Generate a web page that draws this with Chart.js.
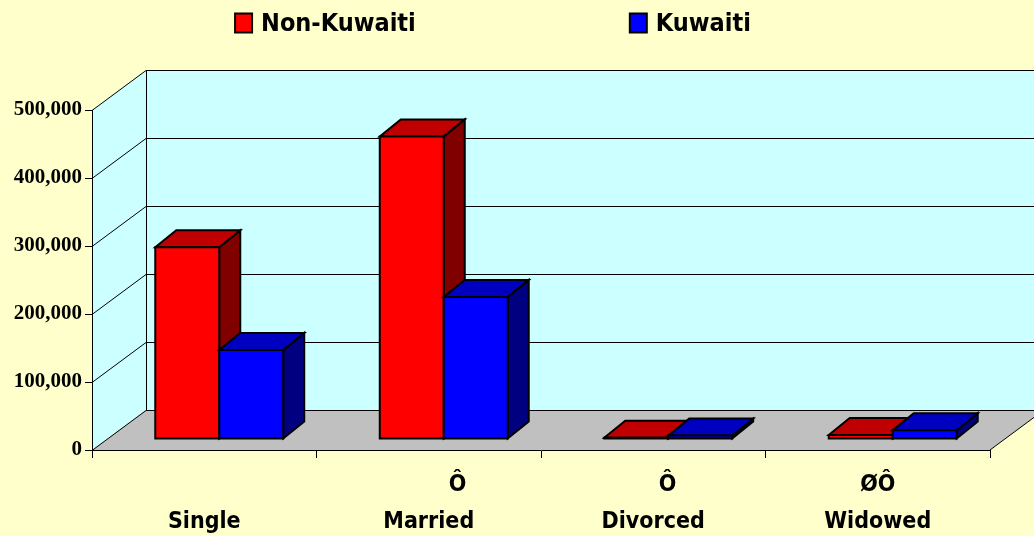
<!DOCTYPE html>
<html>
<head>
<meta charset="utf-8">
<script src="https://cdn.jsdelivr.net/npm/chart.js@4"></script>
<style>
html,body{margin:0;padding:0;background:#FFFFCC;overflow:hidden;}
#c{display:block;}
</style>
</head>
<body>
<canvas id="c" width="1034" height="536"></canvas>
<script>
// ---- data ----
const categories = ['Single', 'Married', 'Divorced', 'Widowed'];
const labelPrefixes = ['', '        Ô', '    Ô', 'ØÔ'];
const seriesNames = ['Non-Kuwaiti', 'Kuwaiti'];
const nonKuwaiti = [282000, 445000, 2000, 6000];
const kuwaiti = [131000, 209000, 5000, 13000];
const yTickValues = [0, 100000, 200000, 300000, 400000, 500000];

// ---- styles ----
const SANS = '"DejaVu Sans Condensed","Liberation Sans Narrow","DejaVu Sans",sans-serif';
const SERIF = '"Liberation Serif","Times New Roman",serif';
const DEPTH = {dx: 54, dy: -40};
const BAR_FRONT = {dx: 15, dy: -11};
const BAR_DEPTH = {dx: 21, dy: -17};

const scene3d = {
  id: 'scene3d',
  beforeDraw(chart) {
    const ctx = chart.ctx, ca = chart.chartArea, W = chart.width, H = chart.height;
    const ys = chart.scales.y;
    const L = ca.left, R = ca.right, T = ca.top, B = ca.bottom;
    const dx = DEPTH.dx, dy = DEPTH.dy;
    ctx.save();
    ctx.fillStyle = '#FFFFCC';
    ctx.fillRect(0, 0, W, H);
    // back wall
    ctx.fillStyle = '#CCFFFF';
    ctx.fillRect(L + dx, T + dy, W - (L + dx), (B - T));
    // side wall
    ctx.beginPath();
    ctx.moveTo(L, T); ctx.lineTo(L + dx, T + dy); ctx.lineTo(L + dx, B + dy); ctx.lineTo(L, B); ctx.closePath();
    ctx.fill();
    // floor
    ctx.fillStyle = '#C0C0C0';
    ctx.beginPath();
    ctx.moveTo(L, B); ctx.lineTo(R, B); ctx.lineTo(R + dx, B + dy); ctx.lineTo(L + dx, B + dy); ctx.closePath();
    ctx.fill();
    // grid lines
    ctx.strokeStyle = '#000';
    ctx.lineWidth = 1;
    yTickValues.forEach(v => {
      const y = Math.round(ys.getPixelForValue(v)) + 0.5;
      ctx.beginPath();
      ctx.moveTo(L, y); ctx.lineTo(L + dx, y + dy); ctx.lineTo(W, y + dy);
      ctx.stroke();
    });
    // back wall left edge
    ctx.beginPath();
    ctx.moveTo(L + dx + 0.5, T + dy); ctx.lineTo(L + dx + 0.5, B + dy);
    ctx.stroke();
    // floor right edge
    ctx.beginPath();
    ctx.moveTo(R, B); ctx.lineTo(R + dx, B + dy);
    ctx.stroke();
    ctx.restore();
  },
  beforeDatasetsDraw(chart) {
    const ctx = chart.ctx;
    const n = chart.data.labels.length;
    ctx.save();
    ctx.lineWidth = 2;
    ctx.lineJoin = 'miter';
    ctx.strokeStyle = '#000';
    for (let i = 0; i < n; i++) {
      chart.data.datasets.forEach((ds, di) => {
        const el = chart.getDatasetMeta(di).data[i];
        const p = el.getProps(['x', 'y', 'base', 'width'], true);
        const x0 = p.x - p.width / 2 + BAR_FRONT.dx, x1 = p.x + p.width / 2 + BAR_FRONT.dx;
        const yt = p.y + BAR_FRONT.dy, yb = p.base + BAR_FRONT.dy;
        const bx = BAR_DEPTH.dx, by = BAR_DEPTH.dy;
        // side
        ctx.fillStyle = ds.sideColor;
        ctx.beginPath();
        ctx.moveTo(x1, yt); ctx.lineTo(x1 + bx, yt + by); ctx.lineTo(x1 + bx, yb + by); ctx.lineTo(x1, yb); ctx.closePath();
        ctx.fill(); ctx.stroke();
        // top
        ctx.fillStyle = ds.topColor;
        ctx.beginPath();
        ctx.moveTo(x0, yt); ctx.lineTo(x1, yt); ctx.lineTo(x1 + bx, yt + by); ctx.lineTo(x0 + bx, yt + by); ctx.closePath();
        ctx.fill(); ctx.stroke();
        // front
        ctx.fillStyle = ds.backgroundColor;
        ctx.beginPath();
        ctx.rect(x0, yt, x1 - x0, yb - yt);
        ctx.fill(); ctx.stroke();
      });
    }
    ctx.restore();
    return false;
  },
  afterDraw(chart) {
    // legend
    const ctx = chart.ctx;
    ctx.save();
    ctx.font = 'bold 25px ' + SANS;
    ctx.textBaseline = 'middle';
    ctx.textAlign = 'left';
    const box = {w: 17, h: 19}, textGap = 9, itemGap = 214, cy = 23;
    const items = chart.data.datasets.map(ds => ({text: ds.label, color: ds.backgroundColor, w: ctx.measureText(ds.label).width}));
    let total = 0;
    items.forEach((it, k) => { total += box.w + textGap + it.w + (k < items.length - 1 ? itemGap : 0); });
    let x = chart.chartArea.right / 2 - total / 2 - 2;
    items.forEach(it => {
      ctx.fillStyle = it.color;
      ctx.fillRect(x, cy - box.h / 2, box.w, box.h);
      ctx.lineWidth = 2;
      ctx.strokeStyle = '#000';
      ctx.strokeRect(x, cy - box.h / 2, box.w, box.h);
      ctx.fillStyle = '#000';
      ctx.fillText(it.text, x + box.w + textGap, cy + 1);
      x += box.w + textGap + it.w + itemGap;
    });
    ctx.restore();
  }
};

new Chart(document.getElementById('c'), {
  type: 'bar',
  data: {
    labels: categories.map((c, i) => [labelPrefixes[i], c]),
    datasets: [
      {label: seriesNames[0], data: nonKuwaiti, backgroundColor: '#FF0000', topColor: '#C00000', sideColor: '#800000',
       borderWidth: 0, categoryPercentage: 0.57, barPercentage: 1},
      {label: seriesNames[1], data: kuwaiti, backgroundColor: '#0000FF', topColor: '#0000C0', sideColor: '#000080',
       borderWidth: 0, categoryPercentage: 0.57, barPercentage: 1}
    ]
  },
  options: {
    responsive: false,
    animation: false,
    devicePixelRatio: 1,
    layout: {padding: {top: 110, right: 44, left: 0, bottom: 0}},
    plugins: {legend: {display: false}, tooltip: {enabled: false}},
    scales: {
      x: {
        grid: {offset: true, drawOnChartArea: false, tickLength: 8, color: '#000', lineWidth: 1},
        border: {color: '#000', width: 1},
        ticks: {color: '#000', font: {family: SANS, size: 23, weight: 'bold', lineHeight: 1.6}, padding: 9, maxRotation: 0, autoSkip: false},
        afterFit: s => { s.height = 86; }
      },
      y: {
        min: 0, max: 500000,
        afterBuildTicks: s => { s.ticks = yTickValues.map(v => ({value: v})); },
        grid: {drawOnChartArea: false, tickLength: 7, color: '#000', lineWidth: 1},
        border: {color: '#000', width: 1},
        ticks: {color: '#000', font: {family: SERIF, size: 21, weight: 'bold'}, padding: 3,
                callback: v => v.toLocaleString('en-US')},
        afterFit: s => { s.width = 92; }
      }
    }
  },
  plugins: [scene3d]
});
</script>
</body>
</html>
